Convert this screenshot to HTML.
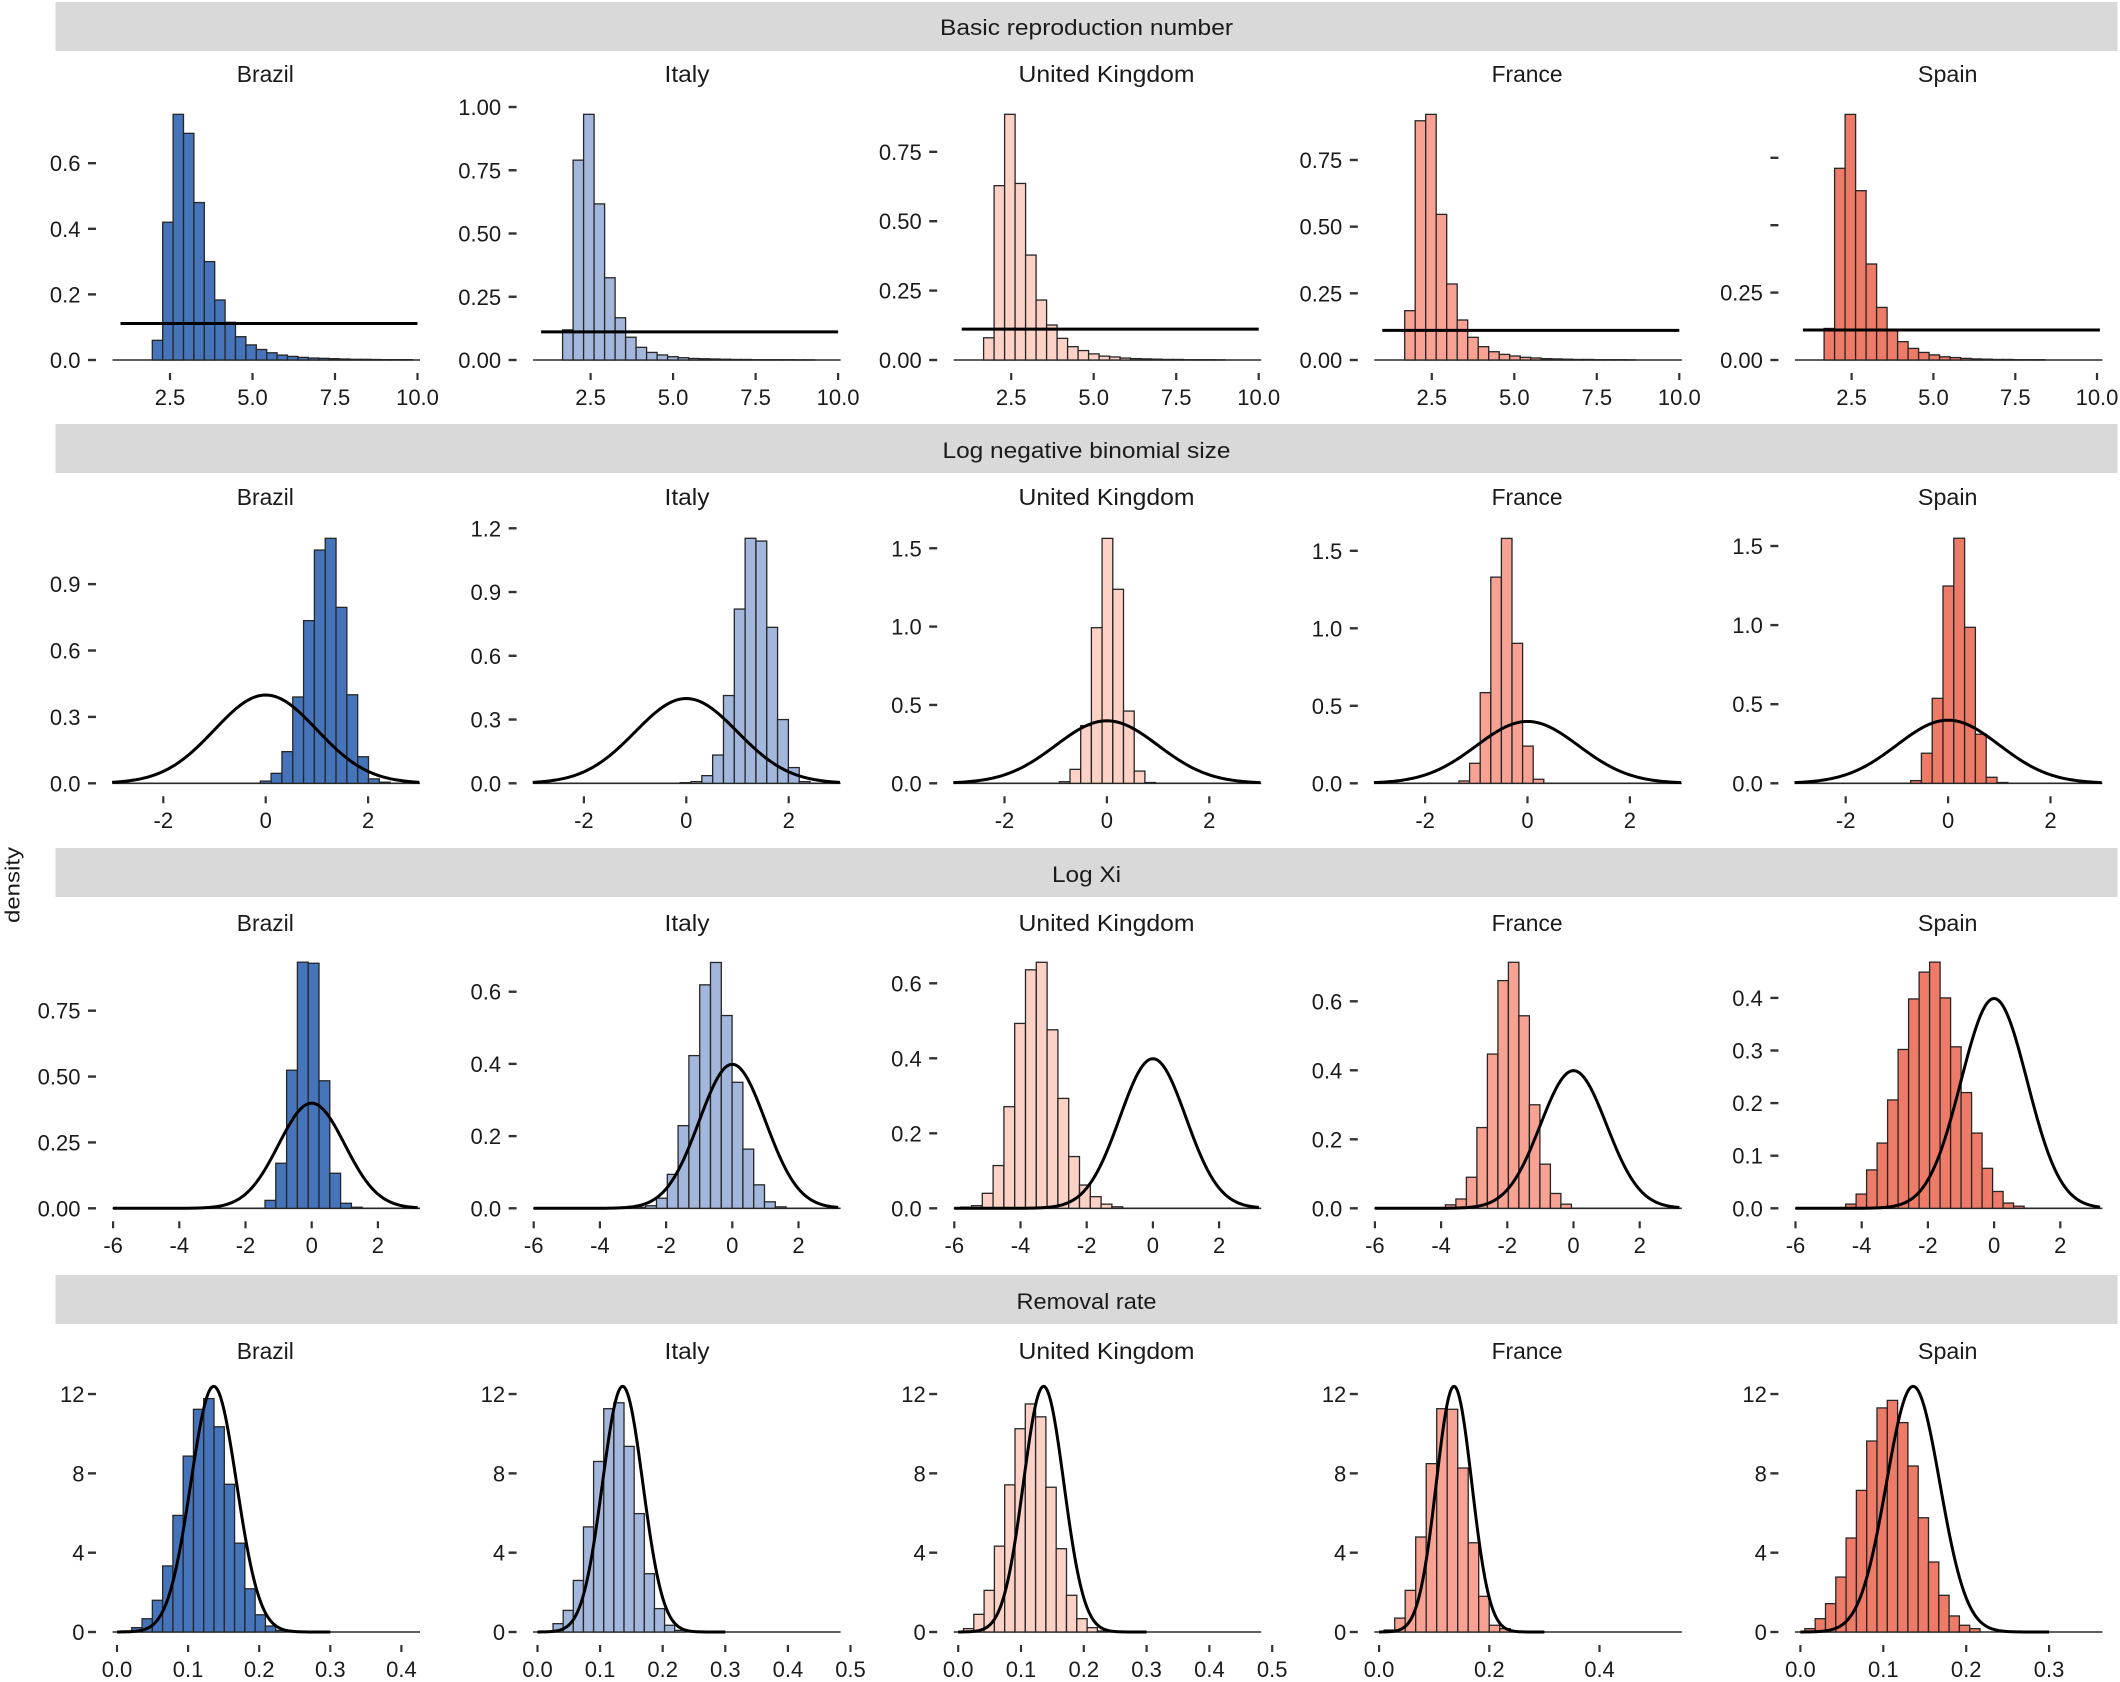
<!DOCTYPE html>
<html><head><meta charset="utf-8">
<style>
html,body{margin:0;padding:0;background:#fff;}
svg{display:block;}
text{font-family:"Liberation Sans",Arial,sans-serif;fill:#1a1a1a;}
.yl text{font-size:22px;text-anchor:end;}
.xl text{font-size:22px;text-anchor:middle;}
.pt text{font-size:23px;text-anchor:middle;}
.st text{font-size:22px;text-anchor:middle;}
</style></head>
<body>
<svg id="s" width="2120" height="1682" viewBox="0 0 2120 1682" xmlns="http://www.w3.org/2000/svg">
<rect x="0" y="0" width="2120" height="1682" fill="#ffffff"/>
<g fill="#d9d9d9">
<rect x="55.5" y="2" width="2062" height="49"/>
<rect x="55.5" y="424" width="2062" height="49"/>
<rect x="55.5" y="848" width="2062" height="49"/>
<rect x="55.5" y="1275" width="2062" height="49"/>
</g>
<g class="st">
<text x="1086.5" y="35" textLength="293" lengthAdjust="spacingAndGlyphs">Basic reproduction number</text>
<text x="1086.5" y="458" textLength="288" lengthAdjust="spacingAndGlyphs">Log negative binomial size</text>
<text x="1086.5" y="882" textLength="69" lengthAdjust="spacingAndGlyphs">Log Xi</text>
<text x="1086.5" y="1309" textLength="140" lengthAdjust="spacingAndGlyphs">Removal rate</text>
</g>
<text transform="translate(19.5,885) rotate(-90)" x="0" y="0" text-anchor="middle" font-size="20" textLength="76" lengthAdjust="spacingAndGlyphs">density</text>
<g class="pt">
<text x="265.3" y="82" textLength="57" lengthAdjust="spacingAndGlyphs">Brazil</text>
<text x="687" y="82" textLength="45" lengthAdjust="spacingAndGlyphs">Italy</text>
<text x="1106.5" y="82" textLength="176" lengthAdjust="spacingAndGlyphs">United Kingdom</text>
<text x="1527.1" y="82" textLength="71" lengthAdjust="spacingAndGlyphs">France</text>
<text x="1947.7" y="82" textLength="59.5" lengthAdjust="spacingAndGlyphs">Spain</text>
<text x="265.3" y="505" textLength="57" lengthAdjust="spacingAndGlyphs">Brazil</text>
<text x="687" y="505" textLength="45" lengthAdjust="spacingAndGlyphs">Italy</text>
<text x="1106.5" y="505" textLength="176" lengthAdjust="spacingAndGlyphs">United Kingdom</text>
<text x="1527.1" y="505" textLength="71" lengthAdjust="spacingAndGlyphs">France</text>
<text x="1947.7" y="505" textLength="59.5" lengthAdjust="spacingAndGlyphs">Spain</text>
<text x="265.3" y="931" textLength="57" lengthAdjust="spacingAndGlyphs">Brazil</text>
<text x="687" y="931" textLength="45" lengthAdjust="spacingAndGlyphs">Italy</text>
<text x="1106.5" y="931" textLength="176" lengthAdjust="spacingAndGlyphs">United Kingdom</text>
<text x="1527.1" y="931" textLength="71" lengthAdjust="spacingAndGlyphs">France</text>
<text x="1947.7" y="931" textLength="59.5" lengthAdjust="spacingAndGlyphs">Spain</text>
<text x="265.3" y="1359" textLength="57" lengthAdjust="spacingAndGlyphs">Brazil</text>
<text x="687" y="1359" textLength="45" lengthAdjust="spacingAndGlyphs">Italy</text>
<text x="1106.5" y="1359" textLength="176" lengthAdjust="spacingAndGlyphs">United Kingdom</text>
<text x="1527.1" y="1359" textLength="71" lengthAdjust="spacingAndGlyphs">France</text>
<text x="1947.7" y="1359" textLength="59.5" lengthAdjust="spacingAndGlyphs">Spain</text>
</g>
<g class="yl">
<text x="80.5" y="368">0.0</text><text x="80.5" y="302.4">0.2</text><text x="80.5" y="236.8">0.4</text><text x="80.5" y="171.2">0.6</text>
<text x="501.1" y="368">0.00</text><text x="501.1" y="304.75">0.25</text><text x="501.1" y="241.5">0.50</text><text x="501.1" y="178.25">0.75</text><text x="501.1" y="115">1.00</text>
<text x="921.7" y="368">0.00</text><text x="921.7" y="298.6">0.25</text><text x="921.7" y="229.2">0.50</text><text x="921.7" y="159.8">0.75</text>
<text x="1342.3" y="368">0.00</text><text x="1342.3" y="301.3">0.25</text><text x="1342.3" y="234.7">0.50</text><text x="1342.3" y="168">0.75</text>
<text x="1762.9" y="368">0.00</text><text x="1762.9" y="300.6">0.25</text>
<text x="80.5" y="791.3">0.0</text><text x="80.5" y="724.9">0.3</text><text x="80.5" y="658.5">0.6</text><text x="80.5" y="592.1">0.9</text>
<text x="501.1" y="791.3">0.0</text><text x="501.1" y="727.55">0.3</text><text x="501.1" y="663.8">0.6</text><text x="501.1" y="600.05">0.9</text><text x="501.1" y="536.3">1.2</text>
<text x="921.7" y="791.3">0.0</text><text x="921.7" y="713">0.5</text><text x="921.7" y="634.6">1.0</text><text x="921.7" y="556.3">1.5</text>
<text x="1342.3" y="791.3">0.0</text><text x="1342.3" y="713.8">0.5</text><text x="1342.3" y="636.3">1.0</text><text x="1342.3" y="558.8">1.5</text>
<text x="1762.9" y="791.3">0.0</text><text x="1762.9" y="712.2">0.5</text><text x="1762.9" y="633.1">1.0</text><text x="1762.9" y="554">1.5</text>
<text x="80.5" y="1216.3">0.00</text><text x="80.5" y="1150.4">0.25</text><text x="80.5" y="1084.6">0.50</text><text x="80.5" y="1018.7">0.75</text>
<text x="501.1" y="1216.3">0.0</text><text x="501.1" y="1144.1">0.2</text><text x="501.1" y="1071.9">0.4</text><text x="501.1" y="999.7">0.6</text>
<text x="921.7" y="1216.3">0.0</text><text x="921.7" y="1141.3">0.2</text><text x="921.7" y="1066.3">0.4</text><text x="921.7" y="991.3">0.6</text>
<text x="1342.3" y="1216.3">0.0</text><text x="1342.3" y="1147.3">0.2</text><text x="1342.3" y="1078.3">0.4</text><text x="1342.3" y="1009.3">0.6</text>
<text x="1762.9" y="1216.3">0.0</text><text x="1762.9" y="1163.7">0.1</text><text x="1762.9" y="1111.1">0.2</text><text x="1762.9" y="1058.5">0.3</text><text x="1762.9" y="1005.9">0.4</text>
<text x="84.5" y="1640">0</text><text x="84.5" y="1560.7">4</text><text x="84.5" y="1481.4">8</text><text x="84.5" y="1402">12</text>
<text x="505.1" y="1640">0</text><text x="505.1" y="1560.7">4</text><text x="505.1" y="1481.4">8</text><text x="505.1" y="1402">12</text>
<text x="925.7" y="1640">0</text><text x="925.7" y="1560.7">4</text><text x="925.7" y="1481.4">8</text><text x="925.7" y="1402">12</text>
<text x="1346.3" y="1640">0</text><text x="1346.3" y="1560.7">4</text><text x="1346.3" y="1481.4">8</text><text x="1346.3" y="1402">12</text>
<text x="1766.9" y="1640">0</text><text x="1766.9" y="1560.7">4</text><text x="1766.9" y="1481.4">8</text><text x="1766.9" y="1402">12</text>
</g>
<g class="xl">
<text x="170" y="405">2.5</text><text x="252.5" y="405">5.0</text><text x="335" y="405">7.5</text><text x="417.5" y="405">10.0</text>
<text x="590.6" y="405">2.5</text><text x="673.1" y="405">5.0</text><text x="755.6" y="405">7.5</text><text x="838.1" y="405">10.0</text>
<text x="1011.2" y="405">2.5</text><text x="1093.7" y="405">5.0</text><text x="1176.2" y="405">7.5</text><text x="1258.7" y="405">10.0</text>
<text x="1431.8" y="405">2.5</text><text x="1514.3" y="405">5.0</text><text x="1596.8" y="405">7.5</text><text x="1679.3" y="405">10.0</text>
<text x="1851.6" y="405">2.5</text><text x="1933.4" y="405">5.0</text><text x="2015.3" y="405">7.5</text><text x="2097" y="405">10.0</text>
<text x="163.3" y="828">-2</text><text x="265.7" y="828">0</text><text x="368.1" y="828">2</text>
<text x="583.9" y="828">-2</text><text x="686.3" y="828">0</text><text x="788.7" y="828">2</text>
<text x="1004.5" y="828">-2</text><text x="1106.9" y="828">0</text><text x="1209.3" y="828">2</text>
<text x="1425.1" y="828">-2</text><text x="1527.5" y="828">0</text><text x="1629.9" y="828">2</text>
<text x="1845.7" y="828">-2</text><text x="1948.1" y="828">0</text><text x="2050.5" y="828">2</text>
<text x="113.1" y="1253">-6</text><text x="179.3" y="1253">-4</text><text x="245.5" y="1253">-2</text><text x="311.7" y="1253">0</text><text x="377.9" y="1253">2</text>
<text x="533.7" y="1253">-6</text><text x="599.9" y="1253">-4</text><text x="666.1" y="1253">-2</text><text x="732.3" y="1253">0</text><text x="798.5" y="1253">2</text>
<text x="954.3" y="1253">-6</text><text x="1020.5" y="1253">-4</text><text x="1086.7" y="1253">-2</text><text x="1152.9" y="1253">0</text><text x="1219.1" y="1253">2</text>
<text x="1374.9" y="1253">-6</text><text x="1441.1" y="1253">-4</text><text x="1507.3" y="1253">-2</text><text x="1573.5" y="1253">0</text><text x="1639.7" y="1253">2</text>
<text x="1795.5" y="1253">-6</text><text x="1861.7" y="1253">-4</text><text x="1927.9" y="1253">-2</text><text x="1994.1" y="1253">0</text><text x="2060.3" y="1253">2</text>
<text x="117" y="1677">0.0</text><text x="188.1" y="1677">0.1</text><text x="259.2" y="1677">0.2</text><text x="330.3" y="1677">0.3</text><text x="401.4" y="1677">0.4</text>
<text x="537.5" y="1677">0.0</text><text x="600.1" y="1677">0.1</text><text x="662.7" y="1677">0.2</text><text x="725.3" y="1677">0.3</text><text x="787.9" y="1677">0.4</text><text x="850.5" y="1677">0.5</text>
<text x="958.2" y="1677">0.0</text><text x="1021" y="1677">0.1</text><text x="1083.8" y="1677">0.2</text><text x="1146.6" y="1677">0.3</text><text x="1209.4" y="1677">0.4</text><text x="1272.2" y="1677">0.5</text>
<text x="1379.1" y="1677">0.0</text><text x="1489.3" y="1677">0.2</text><text x="1599.5" y="1677">0.4</text>
<text x="1800.4" y="1677">0.0</text><text x="1883.3" y="1677">0.1</text><text x="1966.2" y="1677">0.2</text><text x="2049.1" y="1677">0.3</text>
</g>
<g id="plots"></g>
</svg>
<script>
(function(){
var NS="http://www.w3.org/2000/svg";
var g=document.getElementById('plots');
function el(tag,a){var e=document.createElementNS(NS,tag);for(var k in a)e.setAttribute(k,a[k]);g.appendChild(e);return e;}
var DC=420.6;
var Z=[360,783.3,1208.3,1632];
var COL=["#4574ba","#a3b7dc","#fcd1c6","#f7a293","#ee7b68"];
var B=[
[
[152.3,10.4,328,[0.06,0.42,0.749,0.691,0.48,0.30,0.183,0.115,0.071,0.046,0.032,0.022,0.015,0.011,0.008,0.006,0.005,0.004,0.003,0.002,0.002,0.0015,0.001,0.001,0.001]],
[562.6,10.5,253,[0.119,0.79,0.971,0.617,0.325,0.167,0.09,0.05,0.03,0.02,0.013,0.009,0.006,0.005,0.004,0.003,0.002,0.002,0.001,0.001,0.001,0.001,0.0005,0.0005]],
[983.6,10.5,277.6,[0.08,0.628,0.885,0.636,0.378,0.216,0.126,0.078,0.048,0.034,0.022,0.014,0.011,0.007,0.005,0.004,0.003,0.002,0.002,0.001,0.001,0.001,0.0005]],
[1404.7,10.5,266.7,[0.185,0.897,0.921,0.546,0.285,0.15,0.085,0.05,0.031,0.021,0.015,0.01,0.0075,0.005,0.004,0.003,0.002,0.002,0.001,0.001,0.001,0.0005]],
[1824.1,10.5,269.6,[0.117,0.711,0.911,0.628,0.356,0.195,0.11,0.068,0.043,0.028,0.019,0.012,0.009,0.006,0.004,0.003,0.002,0.002,0.001,0.001,0.001]]
],
[
[260.3,10.82,221.3,[0.01,0.045,0.143,0.39,0.735,1.054,1.107,0.795,0.40,0.12,0.02,0.005]],
[680.2,10.82,212.5,[0.003,0.008,0.036,0.133,0.413,0.82,1.153,1.14,0.734,0.30,0.074,0.008]],
[1059.3,10.7,156.7,[0.01,0.089,0.368,0.993,1.563,1.238,0.461,0.078,0.005]],
[1459,10.6,155,[0.015,0.129,0.585,1.33,1.58,0.903,0.24,0.026]],
[1910.6,10.8,158.2,[0.017,0.19,0.537,1.247,1.549,0.986,0.31,0.038,0.005]]
],
[
[265,10.8,263.5,[0.030,0.171,0.524,0.934,0.930,0.484,0.133,0.019,0.004]],
[634.9,10.8,361,[0.003,0.007,0.028,0.094,0.229,0.423,0.619,0.681,0.534,0.349,0.164,0.065,0.018,0.004]],
[960.7,10.8,375,[0.003,0.007,0.04,0.114,0.271,0.493,0.636,0.656,0.476,0.293,0.138,0.062,0.031,0.011,0.004]],
[1445.4,10.5,345,[0.01,0.027,0.09,0.234,0.447,0.66,0.713,0.558,0.30,0.128,0.043,0.012]],
[1845.6,10.5,526,[0.008,0.027,0.073,0.124,0.206,0.302,0.398,0.449,0.468,0.40,0.307,0.22,0.143,0.076,0.032,0.01,0.004]]
],
[
[121.5,10.28,19.83,[0.05,0.22,0.67,1.6,3.33,5.88,8.87,11.23,11.77,10.35,7.45,4.48,2.18,0.87,0.3,0.08]],
[542.9,10.14,19.83,[0.03,0.42,1.09,2.6,5.3,8.6,11.26,11.56,9.36,5.97,2.94,1.18,0.34,0.08]],
[963.5,10.3,19.83,[0.17,0.89,2.1,4.33,7.42,10.25,11.5,10.85,7.3,4.2,1.85,0.67,0.22,0.05]],
[1384.2,10.5,19.83,[0.1,0.7,2.1,4.79,8.49,11.26,11.23,8.27,4.5,1.8,0.34,0.17]],
[1804.9,10.3,19.83,[0.17,0.67,1.43,2.77,4.74,7.14,9.63,11.3,11.68,10.56,8.37,5.76,3.53,1.85,0.81,0.34,0.17]]
]
];
var YT=[
[[0,.2,.4,.6],[0,.25,.5,.75,1],[0,.25,.5,.75],[0,.25,.5,.75],[0,.25,.5,.75]],
[[0,.3,.6,.9],[0,.3,.6,.9,1.2],[0,.5,1,1.5],[0,.5,1,1.5],[0,.5,1,1.5]],
[[0,.25,.5,.75],[0,.2,.4,.6],[0,.2,.4,.6],[0,.2,.4,.6],[0,.1,.2,.3,.4]],
[[0,4,8,12],[0,4,8,12],[0,4,8,12],[0,4,8,12],[0,4,8,12]]
];
var X4=[117,537.5,958.2,1379.1,1800.4], K4=[711,626,628,551,829];
var XV4=[[0,.1,.2,.3,.4],[0,.1,.2,.3,.4,.5],[0,.1,.2,.3,.4,.5],[0,.2,.4],[0,.1,.2,.3]];
function phi(v){return Math.exp(-0.5*v*v)/Math.sqrt(2*Math.PI);}
for(var r=0;r<4;r++){
 var z=Z[r];
 for(var c=0;c<5;c++){
  var L=112.5+c*DC, R=L+307.5;
  var p=B[r][c], st=p[0], w=p[1], s=p[2], h=p[3];
  el('line',{x1:L,x2:R,y1:z,y2:z,stroke:'#2a2a2a','stroke-width':1.6});
  for(var i=0;i<h.length;i++){
   var hh=h[i]*s;
   el('rect',{x:(st+i*w).toFixed(2),y:(z-hh).toFixed(2),width:w,height:Math.max(hh,0.01).toFixed(2),fill:COL[c],stroke:'#262626','stroke-width':1.3});
  }
  var d='';
  if(r===0){
   var x0=87.5+c*DC, yy=z-s/9;
   el('line',{x1:x0+33,x2:x0+330,y1:yy,y2:yy,stroke:'#000','stroke-width':3});
  } else if(r===1){
   var zc=265.7+c*DC;
   for(var v=-3;v<=3.0001;v+=0.05){d+=(d?'L':'M')+(zc+51.2*v).toFixed(2)+','+(z-s*phi(v)).toFixed(2);}
   el('path',{d:d,fill:'none',stroke:'#000','stroke-width':3,'stroke-linejoin':'round'});
  } else if(r===2){
   var zc2=311.7+c*DC;
   for(var v2=-6;v2<=3.2001;v2+=0.05){d+=(d?'L':'M')+(zc2+33.1*v2).toFixed(2)+','+(z-s*phi(v2)).toFixed(2);}
   el('path',{d:d,fill:'none',stroke:'#000','stroke-width':3,'stroke-linejoin':'round'});
  } else {
   var mu=0.136, sg=0.0322;
   for(var v3=0;v3<=0.3001;v3+=0.002){var pd=phi((v3-mu)/sg)/sg;d+=(d?'L':'M')+(X4[c]+K4[c]*v3).toFixed(2)+','+(z-19.83*pd).toFixed(2);}
   el('path',{d:d,fill:'none',stroke:'#000','stroke-width':3,'stroke-linejoin':'round'});
  }
  var yt=YT[r][c];
  for(var j=0;j<yt.length;j++){
   var ty=z-yt[j]*s;
   el('line',{x1:88+c*DC,x2:96+c*DC,y1:ty,y2:ty,stroke:'#333','stroke-width':2.4});
  }
  var xs=[];
  if(r===0){
   if(c===4){xs=[1851.6,1933.4,2015.3,2097];}
   else {var a=87.5+c*DC;[2.5,5,7.5,10].forEach(function(v){xs.push(a+33*v);});}
  }
  else if(r===1){var b=265.7+c*DC;[-2,0,2].forEach(function(v){xs.push(b+51.2*v);});}
  else if(r===2){var e=311.7+c*DC;[-6,-4,-2,0,2].forEach(function(v){xs.push(e+33.1*v);});}
  else {var cc=c;XV4[c].forEach(function(v){xs.push(X4[cc]+K4[cc]*v);});}
  for(var k=0;k<xs.length;k++){
   el('line',{x1:xs[k],x2:xs[k],y1:z+13,y2:z+20,stroke:'#333','stroke-width':2.2});
  }
 }
}
})();
</script>
</body></html>
